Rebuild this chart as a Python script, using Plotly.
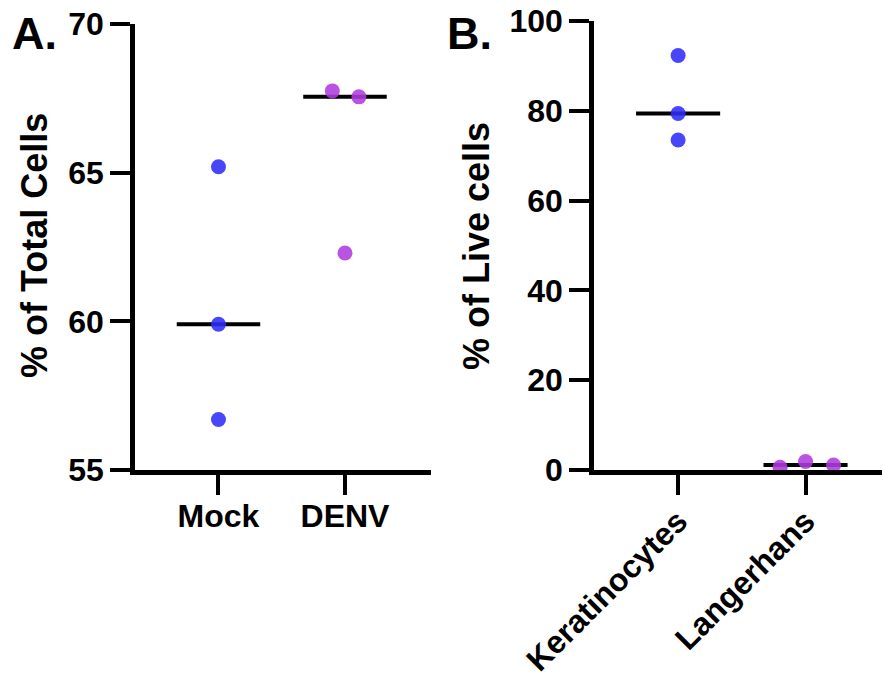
import numpy as np
import plotly.graph_objects as go

# ---- Data ----
groups_a = ["Mock", "DENV"]
mock_vals = [65.2, 59.9, 56.7]
denv_vals = [67.75, 67.55, 62.3]
denv_jitter = [-0.10, 0.11, 0.0]
mock_jitter = [0.0, 0.0, 0.0]

groups_b = ["Keratinocytes", "Langerhans"]
kera_vals = [92.3, 79.4, 73.5]
lang_vals = [0.6, 1.9, 1.1]
kera_jitter = [0.0, 0.0, 0.0]
lang_jitter = [-0.20, 0.0, 0.22]

yticks_a = [55, 60, 65, 70]
yticks_b = [0, 20, 40, 60, 80, 100]

BLUE = "rgb(45,45,248)"
PURPLE = "rgb(175,60,222)"
FONT = "Liberation Sans, Arial, Helvetica, sans-serif"
W, H = 883, 677


def px(x):
    return x / W


def py(y):
    return 1 - y / H


fig = go.Figure()


def add_group(xi, vals, jit, color, xa, ya):
    med = float(np.median(vals))
    fig.add_trace(go.Scatter(x=[xi - 0.33, xi + 0.33], y=[med, med], mode="lines",
                             line=dict(color="black", width=4), xaxis=xa, yaxis=ya,
                             showlegend=False, hoverinfo="skip"))
    fig.add_trace(go.Scatter(x=[xi + j for j in jit], y=vals, mode="markers",
                             marker=dict(color=color, size=15, opacity=0.88, line=dict(width=0)),
                             xaxis=xa, yaxis=ya, showlegend=False))


add_group(0, mock_vals, mock_jitter, BLUE, "x", "y")
add_group(1, denv_vals, denv_jitter, PURPLE, "x", "y")
add_group(0, kera_vals, kera_jitter, BLUE, "x2", "y2")
add_group(1, lang_vals, lang_jitter, PURPLE, "x2", "y2")

tickfont = dict(family=FONT, size=32, color="black", weight="bold")
common_axis = dict(showline=True, linewidth=4.5, linecolor="black", ticks="outside",
                   ticklen=20, tickwidth=4, tickcolor="black", showgrid=False,
                   zeroline=False, tickfont=tickfont, fixedrange=True, automargin=False,
                   ticklabeloverflow="allow")

fig.update_layout(
    width=W, height=H,
    margin=dict(l=0, r=0, t=0, b=0),
    paper_bgcolor="white", plot_bgcolor="white",
    xaxis=dict(domain=[px(135), px(431)], range=[-0.66, 1.68], tickvals=[0, 1],
               ticktext=groups_a, anchor="y", ticklabelstandoff=-6, **common_axis),
    yaxis=dict(domain=[py(470), py(24)], range=[55, 70], tickvals=yticks_a,
               anchor="x", ticklabelstandoff=0, **common_axis),
    xaxis2=dict(domain=[px(594), px(882)], range=[-0.66, 1.6], tickvals=[0, 1],
                ticktext=groups_b, tickangle=-45, anchor="y2", ticklabelstandoff=-5,
                **common_axis),
    yaxis2=dict(domain=[py(470), py(21)], range=[0, 100], tickvals=yticks_b,
                anchor="x2", ticklabelstandoff=0, **common_axis),
    annotations=[
        dict(text="A.", x=px(10), y=py(6), xref="paper", yref="paper",
             xanchor="left", yanchor="top", showarrow=False,
             font=dict(family=FONT, size=45, color="black", weight="bold")),
        dict(text="B.", x=px(445), y=py(6), xref="paper", yref="paper",
             xanchor="left", yanchor="top", showarrow=False,
             font=dict(family=FONT, size=45, color="black", weight="bold")),
        dict(text="% of Total Cells", x=px(34), y=py(246), xref="paper", yref="paper",
             xanchor="center", yanchor="middle", textangle=-90, showarrow=False,
             font=dict(family=FONT, size=36, color="black", weight="bold")),
        dict(text="% of Live cells", x=px(476), y=py(246), xref="paper", yref="paper",
             xanchor="center", yanchor="middle", textangle=-90, showarrow=False,
             font=dict(family=FONT, size=36, color="black", weight="bold")),
    ],
)

fig.write_html("out.html", config={"displayModeBar": False},
               post_script="document.body.style.margin='0';document.body.style.padding='0';")
